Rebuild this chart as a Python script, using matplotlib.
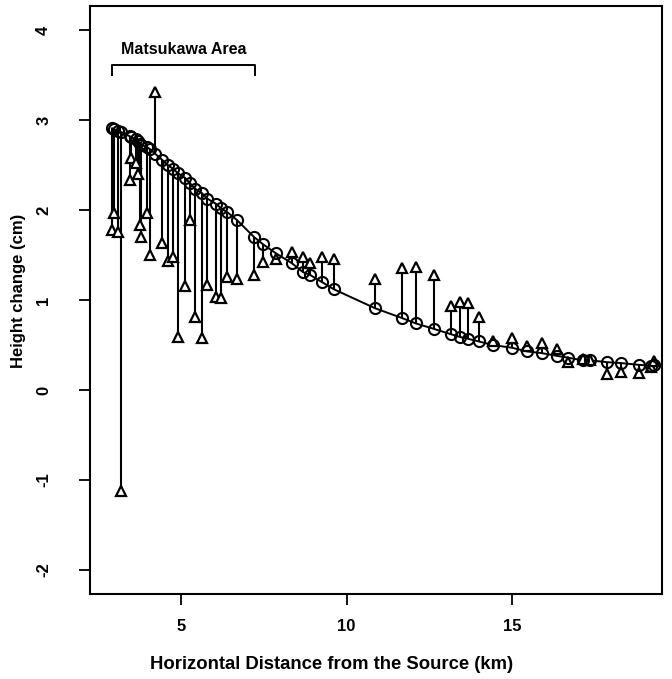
import matplotlib
matplotlib.use("Agg")
import matplotlib.pyplot as plt

plt.rcParams['font.family'] = ['Liberation Sans', 'DejaVu Sans']

# distance from the source (km), model (circles) and observed (triangles) height change (cm)
dist = [2.92, 2.98, 3.10, 3.19, 3.46, 3.49, 3.64, 3.70, 3.76, 3.79,
        3.97, 4.06, 4.21, 4.43, 4.61, 4.76, 4.91, 5.12, 5.27, 5.42,
        5.63, 5.79, 6.06, 6.21, 6.39, 6.69, 7.21, 7.48, 7.87, 8.35,
        8.69, 8.90, 9.26, 9.62, 10.86, 11.68, 12.10, 12.64, 13.16, 13.43,
        13.67, 14.00, 14.43, 15.00, 15.45, 15.91, 16.36, 16.69, 17.14, 17.36,
        17.87, 18.29, 18.84, 19.20, 19.29]
model = [2.91, 2.90, 2.88, 2.87, 2.82, 2.81, 2.79, 2.77, 2.74, 2.73,
         2.70, 2.68, 2.63, 2.56, 2.50, 2.46, 2.41, 2.36, 2.30, 2.24,
         2.19, 2.13, 2.07, 2.02, 1.98, 1.89, 1.70, 1.62, 1.52, 1.41,
         1.31, 1.28, 1.20, 1.12, 0.91, 0.80, 0.74, 0.68, 0.62, 0.59,
         0.57, 0.54, 0.50, 0.47, 0.43, 0.41, 0.38, 0.36, 0.33, 0.33,
         0.31, 0.30, 0.28, 0.27, 0.28]
observed = [1.78, 1.97, 1.76, -1.12, 2.34, 2.58, 2.52, 2.40, 1.83, 1.70,
            1.97, 1.50, 3.31, 1.63, 1.44, 1.48, 0.59, 1.16, 1.89, 0.81,
            0.58, 1.17, 1.03, 1.02, 1.26, 1.23, 1.28, 1.42, 1.46, 1.53,
            1.48, 1.41, 1.48, 1.46, 1.24, 1.36, 1.37, 1.28, 0.93, 0.98,
            0.97, 0.81, 0.54, 0.58, 0.49, 0.52, 0.46, 0.31, 0.34, 0.33,
            0.18, 0.20, 0.19, 0.26, 0.32]

area_start, area_end = 2.92, 7.23
area_label = "Matsukawa Area"
xticks = [5, 10, 15]
yticks = [-2, -1, 0, 1, 2, 3, 4]

fig = plt.figure(figsize=(6.72, 6.79), dpi=100)
ax = fig.add_axes([0.134, 0.125, 0.851, 0.866])

# vertical residual lines
ax.vlines(dist, model, observed, colors='black', linewidth=1.5, zorder=1)
# model curve
ax.plot(dist, model, color='black', linewidth=1.4, zorder=2)
ax.plot(dist, observed, linestyle='none', marker='^', markersize=7.5,
        markerfacecolor='white', markeredgecolor='black', markeredgewidth=1.6, zorder=3)
ax.plot(dist, model, linestyle='none', marker='o', markersize=8,
        markerfacecolor='none', markeredgecolor='black', markeredgewidth=1.5, zorder=4)

# Matsukawa bracket
ax.plot([area_start, area_start, area_end, area_end], [3.50, 3.61, 3.61, 3.50],
        color='black', linewidth=1.4)
ax.text((area_start + area_end) / 2, 3.70, area_label, ha='center', va='bottom',
        fontsize=11.5, fontweight='bold')

ax.set_xlim(2.25, 19.53)
ax.set_ylim(-2.27, 4.27)
ax.set_xticks(xticks)
ax.set_yticks(yticks)
ax.set_xticklabels([str(v) for v in xticks], fontweight='bold')
ax.set_yticklabels([str(v) for v in yticks], rotation=90, va='center', fontweight='bold')
ax.tick_params(axis='x', direction='out', length=8, width=1.3, labelsize=12, pad=10)
ax.tick_params(axis='y', direction='out', length=8, width=1.3, labelsize=12, pad=20)
for s in ax.spines.values():
    s.set_linewidth(1.5)

ax.set_xlabel("Horizontal Distance from the Source (km)", fontsize=13.3,
              fontweight='bold')
ax.set_ylabel("Height change (cm)", fontsize=12, fontweight='bold')
ax.xaxis.set_label_coords(0.423, -0.105)
ax.yaxis.set_label_coords(-0.112, 0.515)

fig.savefig("out.png", dpi=100)
